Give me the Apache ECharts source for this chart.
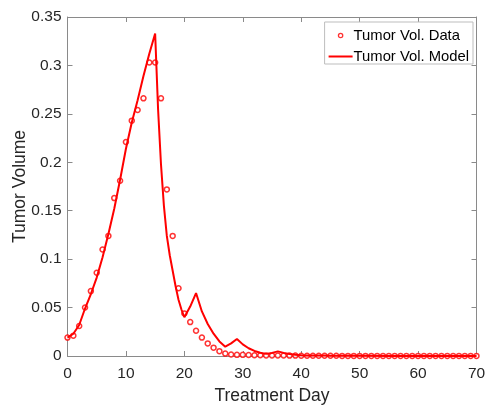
<!DOCTYPE html>
<html>
<head>
<meta charset="utf-8">
<script src="https://cdn.jsdelivr.net/npm/echarts@6/dist/echarts.min.js"></script>
<style>html,body{margin:0;padding:0;background:#fff;}#c{width:487px;height:406px;}</style>
</head>
<body>
<div id="c"></div>
<script>
// Observed data (one point per treatment day)
const dataDays = [];
for (let d = 0; d <= 70; d++) dataDays.push(d);
const dataValues = [
  0.019, 0.021, 0.031, 0.050, 0.067, 0.086, 0.110, 0.124, 0.163, 0.181,
  0.221, 0.243, 0.254, 0.266, 0.303, 0.303, 0.266, 0.172, 0.124, 0.070,
  0.044, 0.035, 0.026, 0.019, 0.013, 0.0086, 0.005, 0.0025, 0.0015, 0.0012,
  0.0012, 0.0010, 0.0008, 0.0007, 0.0006, 0.0006, 0.0005, 0.0005, 0.0004, 0.0004,
  0.0003, 0.0003, 0.0003, 0.0002, 0.0002, 0.0002, 0.0002, 0.0001, 0.0001, 0.0001,
  0.0001, 0.0001, 0.0001, 0.0001, 0.0001, 0.0001, 0.0001, 0.0001, 0.0001, 0.0001,
  0.0001, 0.0001, 0.0001, 0.0001, 0.0001, 0.0001, 0.0001, 0.0001, 0.0001, 0.0001,
  0.0001
];

// Model curve
const modelDays = [
  0, 1, 2, 3, 4, 5, 6, 7, 8, 9, 10, 11, 12, 13, 14, 15,
  15.5, 16, 16.5, 17, 17.5, 18, 18.5, 19, 19.5, 20,
  21, 22, 23, 24, 25, 26, 27, 28, 29, 30, 31, 32, 33, 34, 35, 36,
  37, 38, 39, 40, 41, 42, 43, 44, 45, 50, 55, 60, 65, 70
];
const modelValues = [
  0.019, 0.023, 0.032, 0.049, 0.064, 0.081, 0.102, 0.126, 0.152, 0.182, 0.214, 0.241, 0.264, 0.289, 0.312, 0.333,
  0.255, 0.198, 0.155, 0.124, 0.104, 0.088, 0.072, 0.058, 0.048, 0.040,
  0.051, 0.065, 0.046, 0.033, 0.023, 0.015, 0.0096, 0.013, 0.0175, 0.012, 0.008, 0.0052, 0.0033, 0.0022, 0.0032, 0.0048,
  0.0032, 0.0021, 0.0013, 0.0008, 0.0005, 0.0004, 0.0005, 0.0004, 0.0003, 0.0002, 0.0001, 0.0001, 0.0001, 0.0001
];

const xTicks = [0, 10, 20, 30, 40, 50, 60, 70];
const yTicks = [0, 0.05, 0.1, 0.15, 0.2, 0.25, 0.3, 0.35];

const RED = '#ff0000';
const AXC = '#8a8a8a';
const TXT = '#262626';
const FONT = '"Liberation Sans", Arial, Helvetica, sans-serif';

const chart = echarts.init(document.getElementById('c'), null, {renderer: 'canvas'});

function axisBase() {
  return {
    axisLine: {show: true, onZero: false, lineStyle: {color: AXC, width: 1}},
    axisTick: {show: true, inside: true, length: 5, lineStyle: {color: AXC}},
    splitLine: {show: false}
  };
}

const ringIcon = 'path://M0,0L0,0M24,14L24,14M14.8,7A2.8,2.8,0,1,1,9.2,7A2.8,2.8,0,1,1,14.8,7ZM13.5,7A1.5,1.5,0,1,0,10.5,7A1.5,1.5,0,1,0,13.5,7Z';
const lineIcon = 'path://M0,0L0,0M24,14L24,14M0,6L24,6L24,8L0,8Z';

chart.setOption({
  animation: false,
  backgroundColor: '#fff',
  textStyle: {fontFamily: FONT},
  grid: {left: 67.5, right: 10.5, top: 17, bottom: 50, containLabel: false, outerBoundsMode: 'none'},
  legend: {
    orient: 'vertical',
    right: 14,
    top: 22,
    backgroundColor: '#fff',
    borderColor: '#bdbdbd',
    borderWidth: 1,
    borderRadius: 0,
    padding: [6, 4, 0, 4],
    itemGap: 6,
    itemWidth: 24,
    itemHeight: 14,
    symbolKeepAspect: false,
    textStyle: {fontFamily: FONT, fontSize: 14.8, color: '#000', padding: [0, 0, 0, -4]},
    data: [
      {name: 'Tumor Vol. Data', icon: ringIcon, itemStyle: {color: RED, borderWidth: 0}},
      {name: 'Tumor Vol. Model', icon: lineIcon, itemStyle: {color: RED, borderWidth: 0}}
    ]
  },
  xAxis: [
    Object.assign(axisBase(), {
      type: 'value', position: 'bottom', min: xTicks[0], max: xTicks[xTicks.length - 1], interval: 10,
      name: 'Treatment Day', nameLocation: 'middle', nameGap: 31, nameMoveOverlap: false,
      nameTextStyle: {fontSize: 17.5, color: TXT, fontFamily: FONT},
      axisLabel: {fontSize: 15.5, color: TXT, margin: 10, fontFamily: FONT}
    }),
    Object.assign(axisBase(), {
      type: 'value', position: 'top', min: 0, max: 70, interval: 10,
      axisLabel: {show: false}
    })
  ],
  yAxis: [
    Object.assign(axisBase(), {
      type: 'value', position: 'left', min: yTicks[0], max: yTicks[yTicks.length - 1], interval: 0.05,
      name: 'Tumor Volume', nameLocation: 'middle', nameGap: 38, nameMoveOverlap: false,
      nameTextStyle: {fontSize: 17.5, color: TXT, fontFamily: FONT},
      axisLabel: {fontSize: 15.5, color: TXT, margin: 6, fontFamily: FONT,
        formatter: v => String(+v.toFixed(2))}
    }),
    Object.assign(axisBase(), {
      type: 'value', position: 'right', min: 0, max: 0.35, interval: 0.05,
      axisLabel: {show: false}
    })
  ],
  series: [
    {
      name: 'Tumor Vol. Data',
      type: 'scatter',
      symbol: 'circle',
      symbolSize: 5,
      itemStyle: {color: '#fff', borderColor: RED, borderWidth: 1.5},
      data: dataDays.map((d, i) => [d, dataValues[i]]),
      z: 3
    },
    {
      name: 'Tumor Vol. Model',
      type: 'line',
      showSymbol: false,
      symbol: 'none',
      lineStyle: {color: RED, width: 2},
      itemStyle: {color: RED},
      data: modelDays.map((d, i) => [d, modelValues[i]]),
      z: 4
    },
    {
      name: 'frame',
      type: 'line',
      xAxisIndex: 1,
      yAxisIndex: 1,
      data: [],
      silent: true
    }
  ]
});
</script>
</body>
</html>
